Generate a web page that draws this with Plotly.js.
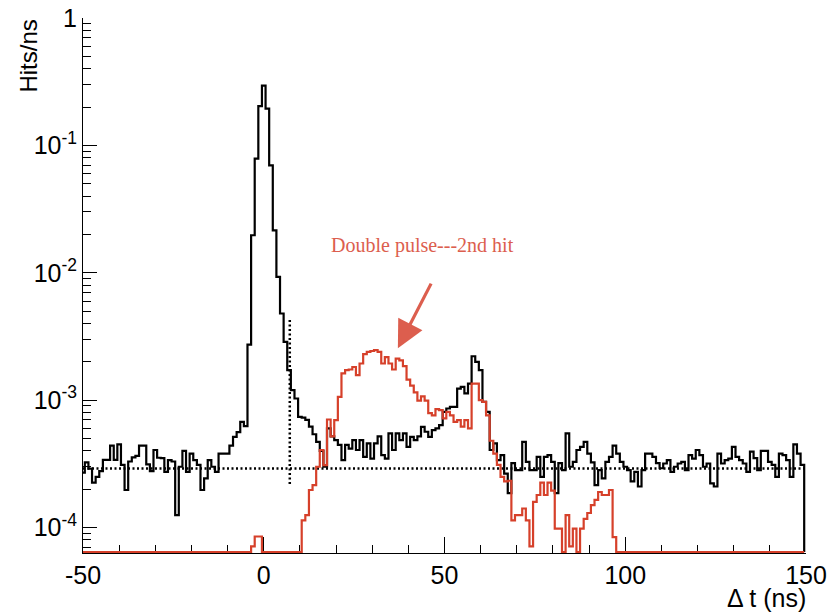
<!DOCTYPE html>
<html>
<head>
<meta charset="utf-8">
<script src="https://cdn.plot.ly/plotly-3.0.1.min.js"></script>
<style>
  html, body { margin: 0; padding: 0; background: #fff; }
  #chart { width: 827px; height: 612px; }
</style>
</head>
<body>
<div id="chart"></div>
<script>
// ---- data (Hits/ns per 1 ns bin, bins centred on -50 ... 149 ns) ----
const binFirstCentre = -50;
const binWidth = 1;

const allHits = [
  2.7e-4, 3.25e-4, 2.9e-4, 2.25e-4, 2.5e-4, 2.77e-4, 3.4e-4, 3.4e-4, 4.4e-4, 3.4e-4,
  4.5e-4, 3.1e-4, 1.97e-4, 3.3e-4, 3.55e-4, 3.65e-4, 4.4e-4, 4.4e-4, 3.13e-4, 2.77e-4,
  4.06e-4, 3.53e-4, 3.5e-4, 2.73e-4, 3.38e-4, 3.3e-4, 1.25e-4, 3.0e-4, 4.0e-4, 2.73e-4,
  3.8e-4, 3.38e-4, 3.1e-4, 1.97e-4, 2.43e-4, 3.38e-4, 3.0e-4, 2.73e-4, 3.8e-4, 3.8e-4,
  3.8e-4, 4.4e-4, 5.15e-4, 5.6e-4, 6.75e-4, 6.25e-4, 2.73e-3, 1.97e-2, 7.87e-2, 0.203,
  0.295, 0.194, 6.97e-2, 2.15e-2, 9.27e-3, 4.79e-3, 2.87e-3, 1.72e-3, 1.2e-3, 1.03e-3,
  7.4e-4, 7.3e-4, 7.0e-4, 6.2e-4, 5.4e-4, 4.7e-4, 4.0e-4, 3.0e-4, 6.0e-4, 5.2e-4,
  4.86e-4, 4.45e-4, 3.38e-4, 4.45e-4, 4.17e-4, 4.86e-4, 4.06e-4, 4.86e-4, 3.59e-4, 4.57e-4,
  3.48e-4, 4.57e-4, 5.2e-4, 3.7e-4, 3.48e-4, 5.48e-4, 4.06e-4, 5.48e-4, 4.86e-4, 5.48e-4,
  4.3e-4, 5.15e-4, 4.86e-4, 5.2e-4, 6.17e-4, 5.65e-4, 5.15e-4, 5.82e-4, 6.0e-4, 6.37e-4,
  8.1e-4, 8.6e-4, 8.86e-4, 8.86e-4, 1.23e-3, 1.27e-3, 1.13e-3, 1.35e-3, 2.21e-3, 2.0e-3,
  1.72e-3, 9.7e-4, 8.1e-4, 4.06e-4, 4.57e-4, 3.38e-4, 3.7e-4, 2.65e-4, 1.86e-4, 3.2e-4,
  2.82e-4, 2.82e-4, 4.7e-4, 3.28e-4, 2.82e-4, 2.82e-4, 3.59e-4, 2.5e-4, 3.59e-4, 3.7e-4,
  3.28e-4, 1.86e-4, 3.2e-4, 2.82e-4, 5.48e-4, 3.0e-4, 3.28e-4, 4.06e-4, 4.3e-4, 4.7e-4,
  3.8e-4, 3.25e-4, 2.15e-4, 2.82e-4, 2.43e-4, 3.28e-4, 3.59e-4, 4.4e-4, 3.8e-4, 3.28e-4,
  3.0e-4, 2.82e-4, 2.3e-4, 2.73e-4, 2.1e-4, 2.82e-4, 3.8e-4, 3.8e-4, 3.59e-4, 3.2e-4,
  2.92e-4, 3.18e-4, 3.38e-4, 2.73e-4, 3.0e-4, 3.18e-4, 3.28e-4, 2.82e-4, 3.7e-4, 3.48e-4,
  4.06e-4, 3.7e-4, 3.0e-4, 3.18e-4, 2.22e-4, 2.1e-4, 3.8e-4, 3.18e-4, 3.38e-4, 3.48e-4,
  4.3e-4, 3.59e-4, 3.38e-4, 3.18e-4, 2.73e-4, 3.95e-4, 3.5e-4, 2.82e-4, 4.0e-4, 4.0e-4,
  3.28e-4, 3.1e-4, 2.5e-4, 3.8e-4, 3.7e-4, 3.38e-4, 2.5e-4, 4.5e-4, 3.8e-4, 3.1e-4
];

const secondHit = [
  0, 0, 0, 0, 0, 0, 0, 0, 0, 0,
  0, 0, 0, 0, 0, 0, 0, 0, 0, 0,
  0, 0, 0, 0, 0, 0, 0, 0, 0, 0,
  0, 0, 0, 0, 0, 0, 0, 0, 0, 0,
  0, 0, 0, 0, 0, 0, 0, 7.1e-5, 8.5e-5, 8.5e-5,
  0, 0, 0, 0, 0, 0, 0, 0, 0, 0,
  0, 1.14e-4, 1.25e-4, 1.97e-4, 2.15e-4, 3.0e-4, 4.06e-4, 3.09e-4, 7.05e-4, 5.2e-4,
  6.97e-4, 1.06e-3, 1.62e-3, 1.72e-3, 1.74e-3, 1.82e-3, 1.57e-3, 1.94e-3, 2.3e-3, 2.39e-3,
  2.43e-3, 2.47e-3, 2.39e-3, 1.94e-3, 2.18e-3, 1.94e-3, 1.74e-3, 2.12e-3, 2.05e-3, 1.85e-3,
  1.45e-3, 1.3e-3, 1.15e-3, 9.9e-4, 1.07e-3, 9.9e-4, 7.9e-4, 7.6e-4, 8.5e-4, 8.35e-4,
  7.2e-4, 8.1e-4, 7.6e-4, 6.76e-4, 6.97e-4, 6.2e-4, 6.97e-4, 6.0e-4, 1.35e-3, 1.35e-3,
  1.0e-3, 9.7e-4, 7.6e-4, 4.8e-4, 3.8e-4, 3.1e-4, 2.5e-4, 2.3e-4, 2.33e-4, 1.14e-4,
  1.25e-4, 1.25e-4, 1.41e-4, 1.14e-4, 7.1e-5, 1.59e-4, 1.8e-4, 2.25e-4, 1.8e-4, 2.25e-4,
  1.95e-4, 9.8e-5, 9.8e-5, 0, 1.25e-4, 7.1e-5, 9.8e-5, 0, 9.8e-5, 1.17e-4,
  1.3e-4, 1.5e-4, 1.65e-4, 1.9e-4, 1.8e-4, 1.8e-4, 1.97e-4, 8.4e-5, 0, 0,
  0, 0, 0, 0, 0, 0, 0, 0, 0, 0,
  0, 0, 0, 0, 0, 0, 0, 0, 0, 0,
  0, 0, 0, 0, 0, 0, 0, 0, 0, 0,
  0, 0, 0, 0, 0, 0, 0, 0, 0, 0,
  0, 0, 0, 0, 0, 0, 0, 0, 0, 0
];

// reference lines (flat background level and time cut)
const backgroundLevel = 2.9e-4;
const cutTime = 7.2;
const cutLineRange = [2.2e-4, 4.4e-3];

// axis ticks
const xTickVals = [-50, 0, 50, 100, 150];
const xTickText = ['-50', '0', '50', '100', '150'];
const yTickVals = [1e-4, 1e-3, 1e-2, 1e-1, 1];
const yTickText = ['10<sup>-4</sup>', '10<sup>-3</sup>', '10<sup>-2</sup>', '10<sup>-1</sup>', '1'];

const labelText = 'Double pulse---2nd hit';
const xTitle = '\u0394 t (ns)';
const yTitle = 'Hits/ns';

// ---- drawing ----
const yLogRange = [-4.2, 0];
const yFloor = Math.pow(10, yLogRange[0] + 0.007);

function histOutline(vals) {
  const xs = [], ys = [];
  const lo = binFirstCentre - binWidth / 2;
  xs.push(lo); ys.push(yFloor);
  for (let i = 0; i < vals.length; i++) {
    xs.push(lo + i * binWidth);
    ys.push(vals[i] > 0 ? vals[i] : yFloor);
  }
  const hi = lo + vals.length * binWidth;
  xs.push(hi); ys.push(vals[vals.length - 1] > 0 ? vals[vals.length - 1] : yFloor);
  xs.push(hi); ys.push(yFloor);
  return {x: xs, y: ys};
}

const black = histOutline(allHits);
const red = histOutline(secondHit);

const minorY = [];
for (let e = -5; e < 0; e++) {
  for (let m = 2; m <= 9; m++) {
    const v = m * Math.pow(10, e);
    if (Math.log10(v) >= yLogRange[0]) minorY.push(v);
  }
}

const traces = [
  {
    x: [-50, 150], y: [backgroundLevel, backgroundLevel],
    mode: 'lines', line: {color: '#000', width: 2.5, dash: '2px,2.5px'},
    hoverinfo: 'skip', showlegend: false
  },
  {
    x: [cutTime, cutTime], y: cutLineRange,
    mode: 'lines', line: {color: '#000', width: 2.5, dash: '2px,2.5px'},
    hoverinfo: 'skip', showlegend: false
  },
  {
    x: black.x, y: black.y, mode: 'lines',
    line: {color: '#000', width: 2.2, shape: 'hv'}, showlegend: false
  },
  {
    x: red.x, y: red.y, mode: 'lines',
    line: {color: '#d6402a', width: 2.2, shape: 'hv'}, showlegend: false
  }
];

const font = 'Liberation Sans, Arial, Helvetica, sans-serif';

const layout = {
  width: 827, height: 612,
  margin: {l: 83, r: 21, t: 18, b: 59},
  paper_bgcolor: '#fff', plot_bgcolor: '#fff',
  showlegend: false,
  xaxis: {
    range: [-50, 150],
    showgrid: false, zeroline: false,
    showline: true, linecolor: '#000', linewidth: 1,
    ticks: 'inside', ticklen: 16, tickwidth: 1, tickcolor: '#000',
    tickmode: 'array', tickvals: xTickVals, ticktext: xTickText,
    tickfont: {family: font, size: 25, color: '#000'},
    minor: {tick0: -50, dtick: 10, ticks: 'inside', ticklen: 8, tickwidth: 1, tickcolor: '#000'},
    layer: 'below traces'
  },
  yaxis: {
    type: 'log', range: yLogRange,
    showgrid: false, zeroline: false,
    showline: true, linecolor: '#000', linewidth: 1,
    ticks: 'inside', ticklen: 14, tickwidth: 1, tickcolor: '#000',
    tickmode: 'array', tickvals: yTickVals, ticktext: yTickText,
    tickfont: {family: font, size: 25, color: '#000'},
    minor: {tickmode: 'array', tickvals: minorY, ticks: 'inside', ticklen: 8, tickwidth: 1, tickcolor: '#000'},
    layer: 'below traces'
  },
  annotations: [
    {
      text: labelText, xref: 'x', yref: 'y', x: 43.8, y: Math.log10(1.65e-2),
      showarrow: false, xanchor: 'center', yanchor: 'middle',
      font: {family: 'Liberation Serif, Times New Roman, serif', size: 20, color: '#dc5e4e'}
    },
    {
      text: '', xref: 'x', yref: 'y', x: 37.1, y: Math.log10(2.56e-3),
      showarrow: true, arrowhead: 2, arrowsize: 1.7, arrowwidth: 3.2, arrowcolor: '#dc5e4e',
      ax: 34, ay: -66, standoff: 0
    },
    {
      text: xTitle, xref: 'paper', yref: 'paper', x: 1.003, y: -0.084,
      showarrow: false, xanchor: 'right', yanchor: 'middle',
      font: {family: font, size: 25, color: '#000'}
    },
    {
      text: yTitle, xref: 'paper', yref: 'paper', x: -0.076, y: 1.0,
      showarrow: false, textangle: -90, xanchor: 'center', yanchor: 'top',
      font: {family: font, size: 24, color: '#000'}
    }
  ]
};

Plotly.newPlot('chart', traces, layout, {displayModeBar: false, staticPlot: true});
</script>
</body>
</html>
